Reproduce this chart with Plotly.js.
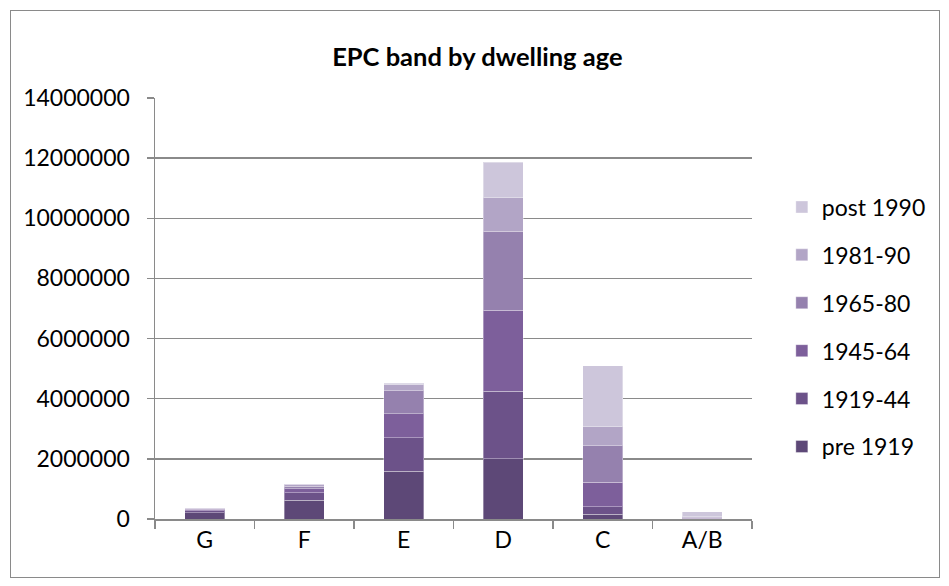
<!DOCTYPE html>
<html>
<head>
<meta charset="utf-8">
<script src="https://cdn.plot.ly/plotly-3.0.1.min.js"></script>
<style>
html,body{margin:0;padding:0;background:#fff;}
#wrap{position:relative;width:949px;height:586px;}
#chart{position:absolute;left:0;top:0;width:949px;height:586px;}
#frame{position:absolute;left:10px;top:10px;width:928px;height:566px;border:1px solid #8a8a8a;pointer-events:none;}
</style>
</head>
<body>
<div id="wrap"><div id="chart"></div><div id="frame"></div></div>
<script>
const categories = ["G", "F", "E", "D", "C", "A/B"];
const seriesNames = ["pre 1919", "1919-44", "1945-64", "1965-80", "1981-90", "post 1990"];
const pre1919   = [200000, 620000, 1590000, 2000000, 150000, 5000];
const y1919_44  = [80000, 250000, 1110000, 2250000, 250000, 5000];
const y1945_64  = [40000, 140000, 800000, 2690000, 820000, 10000];
const y1965_80  = [20000, 80000, 770000, 2630000, 1220000, 20000];
const y1981_90  = [10000, 60000, 190000, 1120000, 620000, 40000];
const post1990  = [10000, 20000, 50000, 1180000, 2040000, 160000];
const colors = ["#5d4877", "#6c5289", "#7d5f9b", "#9581ae", "#b2a5c6", "#cdc6db"];
const seriesValues = [pre1919, y1919_44, y1945_64, y1965_80, y1981_90, post1990];

const font = "Lato, sans-serif";
const traces = seriesNames.map((n, i) => ({
  type: "bar",
  name: n,
  x: categories,
  y: seriesValues[i],
  legendgroup: "g" + i,
  legendrank: seriesNames.length - i,
  marker: {color: colors[i], line: {color: "rgba(255,255,255,0.35)", width: 1}},
  hoverinfo: "x+y+name"
}));

const layout = {
  width: 949, height: 586,
  barmode: "stack",
  bargap: 0.6,
  paper_bgcolor: "#fff", plot_bgcolor: "#fff",
  margin: {l: 155, r: 197, t: 98, b: 67},
  title: {text: "<b>EPC band by dwelling age</b>", font: {family: font, size: 25.5, color: "#000"},
          x: 0.503, xanchor: "center", y: 1 - 57/586, yanchor: "middle", yref: "container"},
  xaxis: {type: "category", showline: true, linecolor: "#8a8a8a", linewidth: 1.5,
          ticks: "outside", tickson: "boundaries", ticklen: 8, tickcolor: "#8a8a8a", tickwidth: 1.5,
          tickfont: {family: font, size: 23, color: "#000"}, showgrid: false, zeroline: false},
  yaxis: {range: [0, 14000000], dtick: 2000000, tickformat: "d", showline: true, linecolor: "#8a8a8a", linewidth: 1.5,
          ticks: "outside", ticklen: 7, tickcolor: "#8a8a8a", tickwidth: 1.5, ticklabelstandoff: 12,
          gridcolor: "#8a8a8a", gridwidth: 1.5, zeroline: false,
          tickfont: {family: font, size: 23, color: "#000"}},
  legend: {traceorder: "grouped", tracegroupgap: 15, x: 1.05, xanchor: "left", y: 0.456, yanchor: "middle",
           font: {family: font, size: 23, color: "#000"}, bgcolor: "rgba(0,0,0,0)"},
  showlegend: true
};
Plotly.newPlot("chart", traces, layout, {displayModeBar: false, staticPlot: true});
</script>
</body>
</html>
